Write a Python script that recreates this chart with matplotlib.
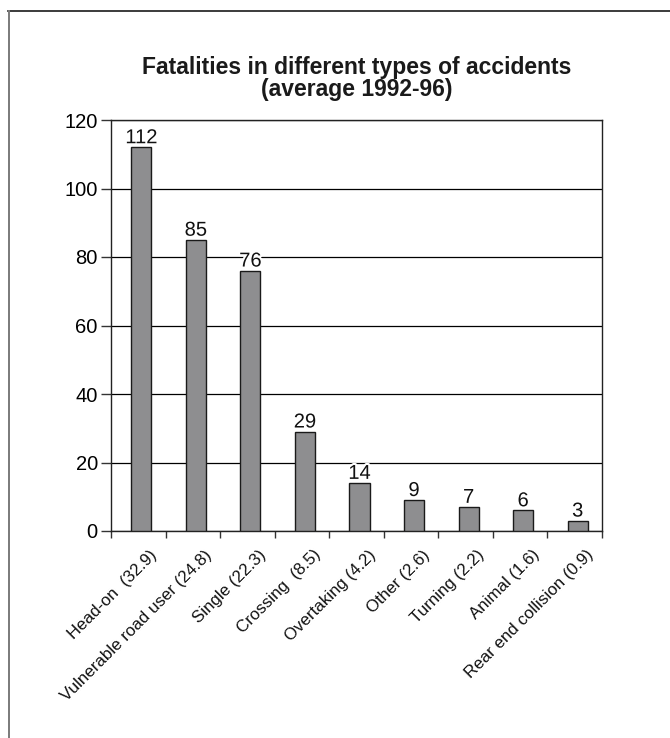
import matplotlib
matplotlib.use("Agg")
import matplotlib.pyplot as plt
import matplotlib.patheffects as pe
from matplotlib.lines import Line2D

plt.rcParams['font.family'] = ['Liberation Sans', 'DejaVu Sans']

categories = ["Head-on  (32.9)", "Vulnerable road user (24.8)", "Single (22.3)",
              "Crossing  (8.5)", "Overtaking (4.2)", "Other (2.6)", "Turning (2.2)",
              "Animal (1.6)", "Rear end collision (0.9)"]
fatalities = [112, 85, 76, 29, 14, 9, 7, 6, 3]
y_ticks = [0, 20, 40, 60, 80, 100, 120]
title_lines = ["Fatalities in different types of accidents", "(average 1992-96)"]

W, H = 670, 738
BAR_WIDTH = 0.367
BAR_SHIFT = 0.055

fig = plt.figure(figsize=(W / 100, H / 100), dpi=100)
ax = fig.add_axes([111 / W, 1 - 531 / H, (602 - 111) / W, (531 - 120) / H])

x = [i + BAR_SHIFT for i in range(len(categories))]
bars = ax.bar(x, fatalities, width=BAR_WIDTH, color='#8e8e90', edgecolor='#1a1a1a',
              linewidth=1.0, zorder=3)

ax.set_xlim(-0.5, len(categories) - 0.5)
ax.set_ylim(0, 120)
ax.set_yticks(y_ticks)
ax.set_yticklabels([str(v) for v in y_ticks], fontsize=14.5)
ax.yaxis.grid(True, color='black', linewidth=0.9, zorder=0)
ax.set_axisbelow(True)

# category boundaries carry the x ticks, labels hang below each bar
ax.set_xticks([i - 0.5 for i in range(len(categories) + 1)])
ax.set_xticklabels([])
ax.tick_params(axis='x', length=5, width=1, direction='out', color='#333333')
ax.tick_params(axis='y', length=7, width=1, direction='out', pad=2.5, color='#333333')
for i, lab in enumerate(categories):
    ax.annotate(lab, xy=(i, 0), xycoords='data',
                xytext=(12, -15.5), textcoords='offset points',
                rotation=45, rotation_mode='anchor', ha='right', va='center',
                fontsize=12.2, color='#111111')

for sp in ax.spines.values():
    sp.set_linewidth(1.0)
    sp.set_color('#222222')

# value labels knock out the grid line only where the glyphs sit
for rect, v in zip(bars, fatalities):
    ax.annotate(str(v), xy=(rect.get_x() + rect.get_width() / 2, v),
                xytext=(0, 3), textcoords='offset points',
                ha='center', va='baseline', fontsize=14.5, color='#111111',
                path_effects=[pe.withStroke(linewidth=3, foreground='white')],
                zorder=4)

# two-line bold title centred over the plot area
cx = (111 + 602) / 2 / W
fig.text(cx, 1 - 74 / H, title_lines[0], ha='center', va='baseline',
         fontsize=16.5, fontweight='bold', color='#1a1a1a')
fig.text(cx, 1 - 96 / H, title_lines[1], ha='center', va='baseline',
         fontsize=16.5, fontweight='bold', color='#1a1a1a')

# outer frame (top and left edges)
fig.add_artist(Line2D([8 / W, 1], [1 - 10.5 / H, 1 - 10.5 / H], transform=fig.transFigure,
                      color='#1a1a1a', linewidth=1.2))
fig.add_artist(Line2D([8.5 / W, 8.5 / W], [0, 1 - 10.5 / H], transform=fig.transFigure,
                      color='#7a7a7a', linewidth=1.4))

fig.savefig("out.png", dpi=100)
